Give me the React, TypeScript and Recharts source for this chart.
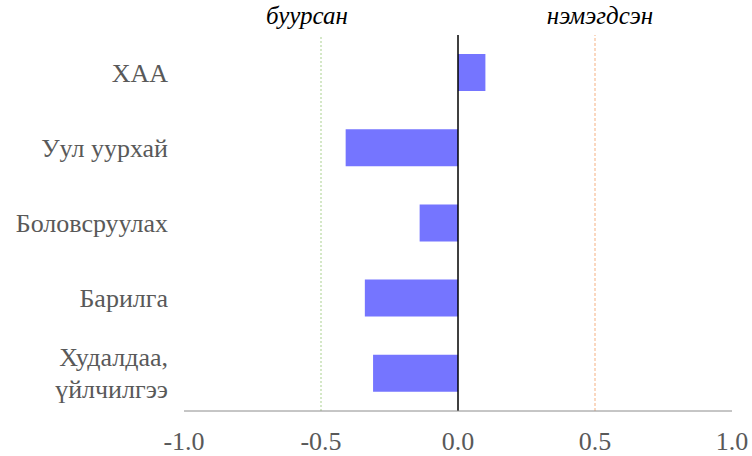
import React from "react";
import { BarChart, Bar, XAxis, YAxis, ReferenceLine, Label } from "recharts";

const categories = ["ХАА", "Уул уурхай", "Боловсруулах", "Барилга", "Худалдаа, үйлчилгээ"];
const values = [0.1, -0.41, -0.14, -0.34, -0.31];
const xTicks = [-1.0, -0.5, 0.0, 0.5, 1.0];
const leftLabel = "буурсан";
const rightLabel = "нэмэгдсэн";

const data = categories.map((name, i) => ({ name, value: values[i] }));

const FONT = "'Times New Roman', 'Liberation Serif', serif";

const CategoryTick = (props: any) => {
  const { x, y, payload } = props;
  const text: string = payload.value;
  const parts = text.includes(", ") ? [text.split(", ")[0] + ",", text.split(", ")[1]] : [text];
  const lh = 32;
  const startDy = -((parts.length - 1) * lh) / 2;
  return (
    <text
      x={x - 8}
      y={y}
      textAnchor="end"
      fill="#595959"
      dominantBaseline="central"
      fontFamily={FONT}
      fontSize={26}
    >
      {parts.map((p, i) => (
        <tspan key={i} x={x - 8} dy={i === 0 ? startDy : lh}>
          {p}
        </tspan>
      ))}
    </text>
  );
};

const XTick = (props: any) => {
  const { x, y, payload } = props;
  return (
    <text
      x={x}
      y={y}
      textAnchor="middle"
      fill="#595959"
      dominantBaseline="central"
      fontFamily={FONT}
      fontSize={26}
    >
      {Number(payload.value).toFixed(1)}
    </text>
  );
};

const labelStyle = { fontStyle: "italic", fontSize: 25, fontFamily: FONT, fill: "#000" };

export default function App() {
  return (
    <div
      style={{
        position: "absolute",
        left: 0,
        top: 0,
        width: 752,
        height: 456,
        background: "#fff",
        fontFamily: FONT,
      }}
    >
      <BarChart
        width={752}
        height={456}
        data={data}
        layout="vertical"
        margin={{ top: 35, right: 20, bottom: 0, left: 0 }}
        style={{ overflow: "visible" }}
      >
        <XAxis
          type="number"
          domain={[-1, 1]}
          ticks={xTicks}
          tickLine={false}
          axisLine={{ stroke: "#8c8c8c" }}
          tick={<XTick />}
          tickMargin={24}
          height={45}
        />
        <YAxis
          type="category"
          dataKey="name"
          width={184}
          axisLine={false}
          tickLine={false}
          tick={<CategoryTick />}
          interval={0}
        />
        <Bar dataKey="value" fill="#7575ff" barSize={37} isAnimationActive={false} />
        <ReferenceLine x={-0.5} stroke="#a9d18e" strokeDasharray="2 2" strokeWidth={1}>
          <Label value={leftLabel} position="top" offset={11} dx={-14} style={labelStyle} />
        </ReferenceLine>
        <ReferenceLine x={0.5} stroke="#f4b183" strokeDasharray="3 2" strokeWidth={1}>
          <Label value={rightLabel} position="top" offset={11} dx={5} style={labelStyle} />
        </ReferenceLine>
        <ReferenceLine x={0} stroke="#000" strokeWidth={1.5} />
      </BarChart>
    </div>
  );
}
